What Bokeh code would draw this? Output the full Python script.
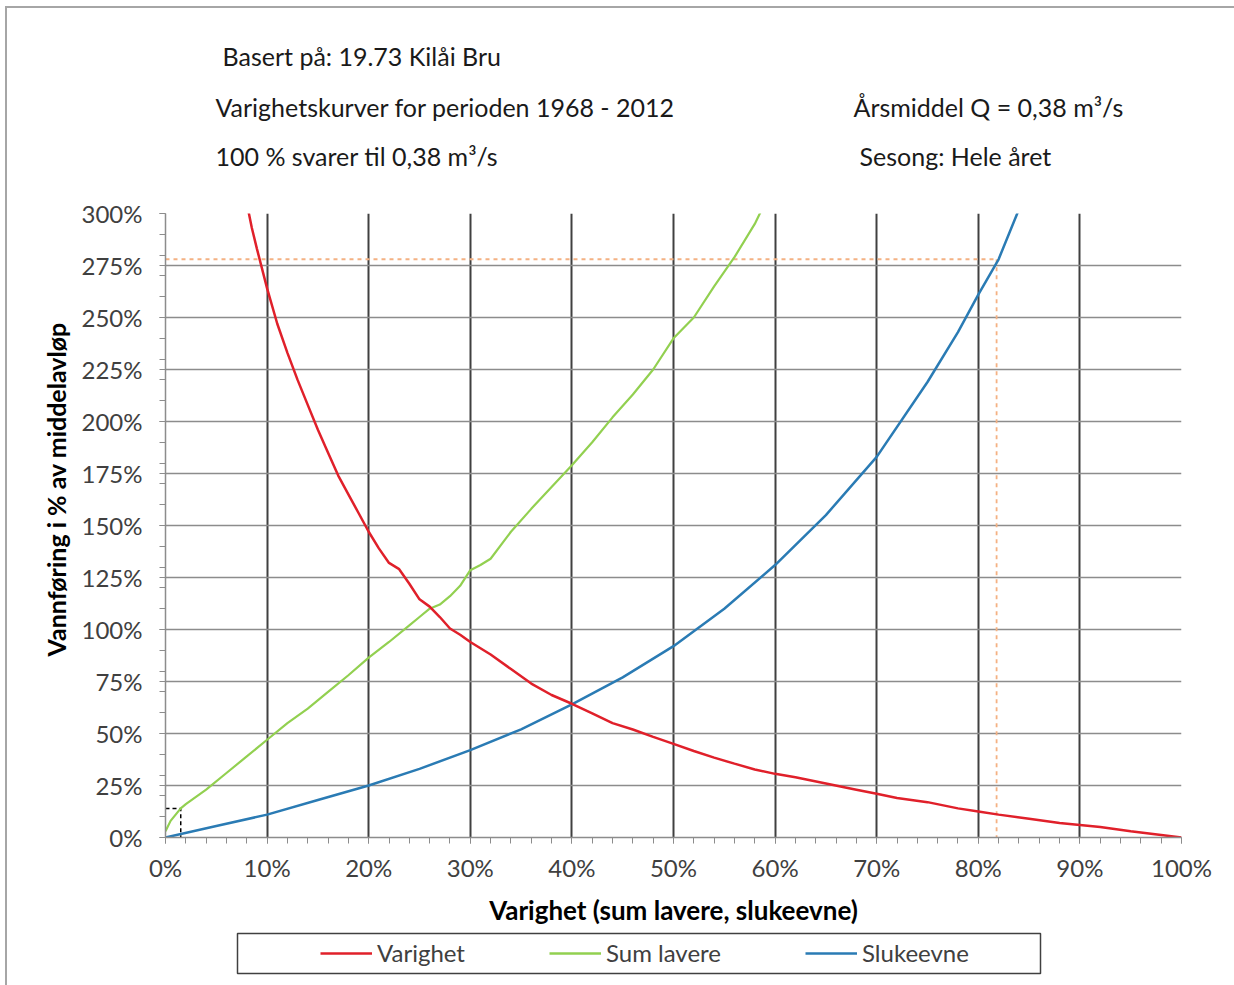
import numpy as np
from bokeh.plotting import figure
from bokeh.layouts import column
from bokeh.models import (Range1d, FixedTicker, PrintfTickFormatter, Label, Legend, LegendItem,
                          BoxAnnotation, Title)
from bokeh.embed import file_html
from bokeh.resources import INLINE

# ---------------- data ----------------
varighet_x = [7, 8, 8.5, 9, 10, 11, 12, 13, 14, 15, 16, 17, 18, 19, 20, 21, 22, 23, 24, 25, 26, 27, 28,
              29, 30, 32, 34, 36, 38, 40, 42, 44, 46, 48, 50, 52, 54, 56, 58, 60, 62, 65, 68, 70,
              72, 75, 78, 80, 82, 85, 88, 90, 92, 95, 98, 100]
varighet_y = [330, 305, 293, 283, 264, 247, 233, 220, 208, 196, 185, 174, 165, 156, 147, 139, 132, 129, 122,
              114.5, 111, 106, 100.5, 97.5, 94, 88, 81, 74, 68.5, 64.3, 59.7, 55, 51.9, 48.4, 45, 41.6,
              38.4, 35.5, 32.7, 30.6, 29, 26, 23, 21, 19, 17, 14, 12.5, 11, 9, 7, 6, 5, 3, 1.2, 0]

sum_lavere_x = [0, 0.5, 1, 1.5, 2, 4, 6, 8, 10, 12, 14, 16, 18, 20, 22, 24, 25, 26, 27, 28, 29, 30,
                31, 32, 34, 36, 38, 40, 42, 44, 46, 48, 50, 52, 54, 56, 58, 59.5]
sum_lavere_y = [3, 8, 11, 14, 16, 23, 31, 39, 47, 55, 62, 70, 78, 86.5, 94, 102, 106, 110, 112, 116, 121,
                128.5, 131, 134, 147, 158, 168.5, 179, 190, 202, 213, 225, 240, 250, 265, 279, 295, 310]

slukeevne_x = [0, 5, 10, 15, 20, 25, 30, 35, 40, 45, 50, 55, 60, 65, 70, 75, 78, 80, 82, 84, 85]
slukeevne_y = [0, 5.5, 11, 18, 25, 33, 42, 52, 64, 77, 92, 110, 131, 155, 183, 219, 243, 261, 278, 302, 315]

series_names = ["Varighet", "Sum lavere", "Slukeevne"]
series_colors = ["#E0202A", "#92D050", "#2A7BB4"]

x_ticks = [0, 10, 20, 30, 40, 50, 60, 70, 80, 90, 100]
x_minor = list(range(0, 101, 2))
y_ticks = [0, 25, 50, 75, 100, 125, 150, 175, 200, 225, 250, 275, 300]
y_minor = list(range(0, 301, 10))

ref_x, ref_y = 81.8, 278       # orange dotted reference point
low_x, low_y = 1.5, 14         # black dashed reference point

header_left = ["Basert på: 19.73  Kilåi Bru", "Varighetskurver for perioden 1968 - 2012",
               "100 % svarer til 0,38 m³/s"]
header_right = ["Årsmiddel Q = 0,38 m³/s", "Sesong: Hele året"]

FONT = "Lato"
OX, OY = 7, 8          # page border offset
W = 1234 - OX
FL, FR = 165, 1181     # page x of plot frame left / right
MBL, MBR = FL - OX, 1234 - FR

# ---------------- header (page-pixel coordinates) ----------------
h = figure(width=W, height=190 - OY, output_backend="svg", toolbar_location=None,
           x_range=Range1d(FL, FR), y_range=Range1d(190, OY),
           min_border_left=MBL, min_border_right=MBR, min_border_top=0, min_border_bottom=0)
h.axis.visible = False
h.grid.visible = False
h.outline_line_color = None
hs = dict(text_font=FONT, text_font_size="25px", text_color="#1a1a1a", text_baseline="middle")
h.add_layout(Label(x=222, y=55, text=header_left[0], **hs))
h.add_layout(Label(x=215, y=106, text=header_left[1], **hs))
h.add_layout(Label(x=215, y=155, text=header_left[2], **hs))
h.add_layout(Label(x=853, y=106, text=header_right[0], **hs))
h.add_layout(Label(x=859, y=155, text=header_right[1], **hs))

# ---------------- main chart ----------------
p = figure(width=W, height=740, output_backend="svg", toolbar_location=None,
           x_range=Range1d(0, 100), y_range=Range1d(0, 300),
           min_border_left=MBL, min_border_right=MBR, min_border_top=213 - 190,
           min_border_bottom=93)
p.outline_line_color = None

for ax in (p.xaxis[0], p.yaxis[0]):
    ax.axis_line_color = "#8c8c8c"
    ax.axis_line_width = 1.5
    ax.major_tick_line_color = "#8c8c8c"
    ax.minor_tick_line_color = "#8c8c8c"
    ax.major_tick_out = 6
    ax.major_tick_in = 0
    ax.minor_tick_out = 6
    ax.minor_tick_in = 0
    ax.major_label_text_font = FONT
    ax.major_label_text_font_size = "24px"
    ax.major_label_text_color = "#404040"
    ax.formatter = PrintfTickFormatter(format="%d%%")

p.xaxis[0].ticker = FixedTicker(ticks=x_ticks, minor_ticks=x_minor)
p.yaxis[0].ticker = FixedTicker(ticks=y_ticks, minor_ticks=y_minor)
p.xaxis[0].major_label_standoff = 9
p.yaxis[0].major_label_standoff = 17
p.xaxis[0].axis_label = "Varighet (sum lavere, slukeevne)"
p.xaxis[0].axis_label_text_font = FONT
p.xaxis[0].axis_label_text_font_style = "bold"
p.xaxis[0].axis_label_text_font_size = "26px"
p.xaxis[0].axis_label_text_color = "black"
p.xaxis[0].axis_label_standoff = 9

p.xgrid[0].ticker = FixedTicker(ticks=x_ticks[1:])
p.xgrid[0].grid_line_color = "#404040"
p.xgrid[0].grid_line_width = 2
p.ygrid[0].ticker = FixedTicker(ticks=y_ticks[1:])
p.ygrid[0].grid_line_color = "#8c8c8c"
p.ygrid[0].grid_line_width = 1.5

ytitle = Title(text="Vannføring i % av middelavløp", align="left", offset=181, standoff=16,
               text_font=FONT, text_font_style="bold", text_font_size="25px", text_color="black")
p.add_layout(ytitle, "left")

# reference lines
p.line([0, ref_x], [ref_y, ref_y], line_color="#F4B183", line_width=1.8, line_dash="4 4")
p.line([ref_x, ref_x], [ref_y, 0], line_color="#F4B183", line_width=1.8, line_dash="4 4")
p.line([0, low_x, low_x], [low_y, low_y, 0], line_color="black", line_width=1.5, line_dash="4 3")

# curves
p.line(sum_lavere_x, sum_lavere_y, line_color=series_colors[1], line_width=2.2)
p.line(slukeevne_x, slukeevne_y, line_color=series_colors[2], line_width=2.5)
p.line(varighet_x, varighet_y, line_color=series_colors[0], line_width=2.5)

# ---------------- legend strip (page-pixel coordinates) ----------------
lg = figure(width=W, height=985 - 930, output_backend="svg", toolbar_location=None,
            x_range=Range1d(FL, FR), y_range=Range1d(985, 930),
            min_border_left=MBL, min_border_right=MBR, min_border_top=0, min_border_bottom=0)
lg.axis.visible = False
lg.grid.visible = False
lg.outline_line_color = None
items = []
for name, col in zip(series_names, series_colors):
    # off-screen proxy renderer carrying the series style for the legend
    r = lg.line(x=[FL, FL + 1], y=[0, 0], line_color=col, line_width=2.5)
    items.append(LegendItem(label=name, renderers=[r]))
lg.add_layout(BoxAnnotation(left=237, right=1040, top=933, bottom=973, fill_alpha=0,
                            line_color="#404040", line_alpha=1, line_width=1.5))
legend = Legend(items=items, orientation="horizontal", location=(320 - FL, 18), padding=0,
                spacing=84, glyph_width=52, label_standoff=5, border_line_color=None,
                background_fill_alpha=0, label_text_font=FONT, label_text_font_size="24px",
                label_text_color="#404040", margin=0)
lg.add_layout(legend, "center")

root = column(h, p, lg, styles={"border-left": "2px solid #a6a6a6", "border-top": "2px solid #a6a6a6",
                                "margin-left": "5px", "margin-top": "6px"})

open("out.html", "w").write(file_html(root, INLINE))
